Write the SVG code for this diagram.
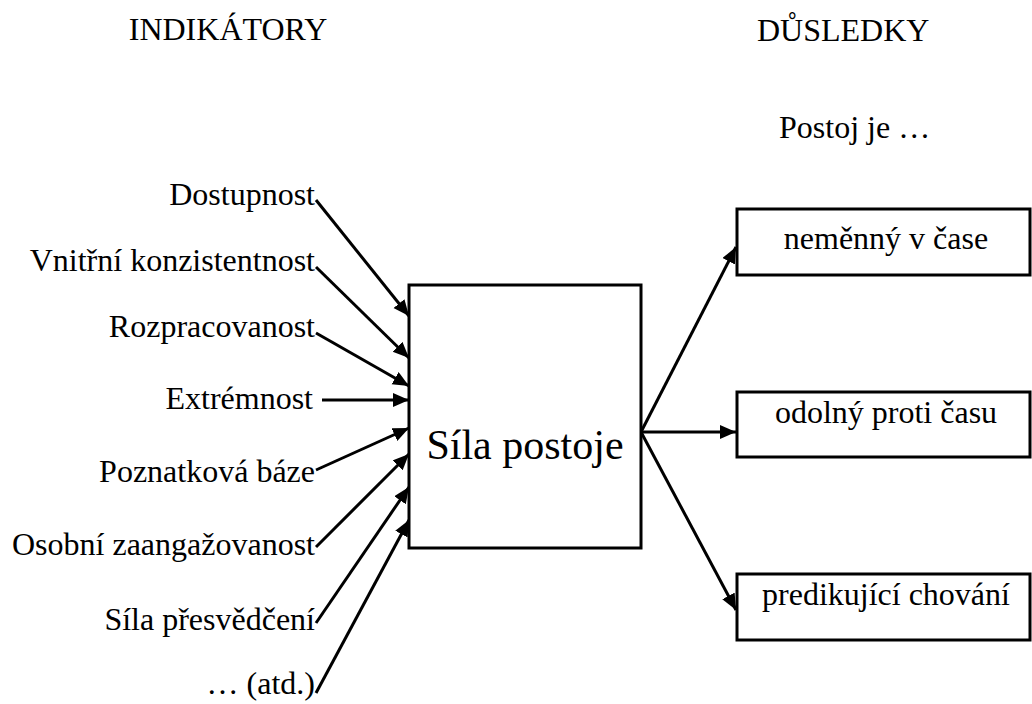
<svg xmlns="http://www.w3.org/2000/svg" width="1032" height="704" viewBox="0 0 1032 704">
<style>
.t{font-family:'Liberation Serif','DejaVu Serif','Times New Roman',serif;fill:#000;font-size:32px}
.r{text-anchor:end}
.m{text-anchor:middle}
.box{fill:#fff;stroke:#000;stroke-width:3}
.ln{stroke:#000;stroke-width:3;fill:none}
</style>
<defs>
<marker id="ah" markerUnits="userSpaceOnUse" markerWidth="18" markerHeight="16" refX="16" refY="7" orient="auto">
<path d="M0,0 L16,7 L0,14 Z" fill="#000"/>
</marker>
</defs>
<rect width="1032" height="704" fill="#fff"/>
<g id="headings" class="t" font-family="Liberation Serif, DejaVu Serif, serif">
<text x="228" y="40" class="m">INDIKÁTORY</text>
<text x="757" y="41">DŮSLEDKY</text>
<text x="779" y="138">Postoj je …</text>
</g>
<g id="connectors">
<line class="ln" x1="316" y1="200" x2="409" y2="316" marker-end="url(#ah)"/>
<line class="ln" x1="316" y1="267" x2="409" y2="358" marker-end="url(#ah)"/>
<line class="ln" x1="316" y1="333" x2="409" y2="386" marker-end="url(#ah)"/>
<line class="ln" x1="322" y1="400" x2="409" y2="400" marker-end="url(#ah)"/>
<line class="ln" x1="316" y1="470" x2="409" y2="428" marker-end="url(#ah)"/>
<line class="ln" x1="316" y1="547" x2="409" y2="454" marker-end="url(#ah)"/>
<line class="ln" x1="316" y1="623" x2="409" y2="487" marker-end="url(#ah)"/>
<line class="ln" x1="316" y1="693" x2="409" y2="520" marker-end="url(#ah)"/>
<line class="ln" x1="641" y1="432" x2="736" y2="247" marker-end="url(#ah)"/>
<line class="ln" x1="641" y1="432" x2="736" y2="432" marker-end="url(#ah)"/>
<line class="ln" x1="641" y1="432" x2="736" y2="610" marker-end="url(#ah)"/>
</g>
<g class="t" font-family="Liberation Serif, DejaVu Serif, serif">
<g id="n-dostupnost"><text x="315" y="205" class="r">Dostupnost</text></g>
<g id="n-vnitrni"><text x="315" y="271" class="r">Vnitřní konzistentnost</text></g>
<g id="n-rozpracovanost"><text x="315" y="337" class="r">Rozpracovanost</text></g>
<g id="n-extremnost"><text x="313" y="409" class="r">Extrémnost</text></g>
<g id="n-poznatkova"><text x="315" y="482" class="r">Poznatková báze</text></g>
<g id="n-osobni"><text x="315" y="555" class="r">Osobní zaangažovanost</text></g>
<g id="n-sila-presvedceni"><text x="315" y="630" class="r">Síla přesvědčení</text></g>
<g id="n-atd"><text x="315" y="694" class="r">… (atd.)</text></g>
<g id="n-sila-postoje">
<rect class="box" x="409" y="285" width="232" height="263"/>
<text x="525" y="459" class="m" font-size="42" style="font-size:42px">Síla postoje</text>
</g>
<g id="n-nemenny">
<rect class="box" x="737" y="209" width="293" height="66"/>
<text x="886" y="249" class="m">neměnný v čase</text>
</g>
<g id="n-odolny">
<rect class="box" x="737" y="392" width="293" height="65"/>
<text x="886" y="423" class="m">odolný proti času</text>
</g>
<g id="n-predikujici">
<rect class="box" x="737" y="574" width="293" height="66"/>
<text x="886" y="605" class="m">predikující chování</text>
</g>
</g>
</svg>
